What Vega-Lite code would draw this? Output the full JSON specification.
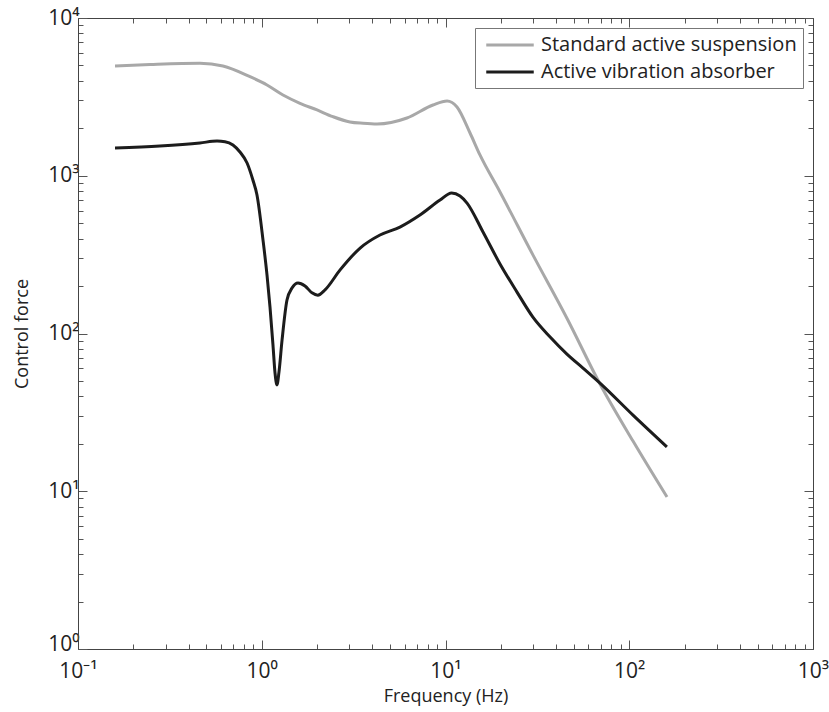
{
  "$schema": "https://vega.github.io/schema/vega-lite/v6.json",
  "width": 735,
  "height": 631,
  "autosize": {"type": "none"},
  "padding": {"left": 78, "top": 18, "right": 16, "bottom": 63},
  "background": "white",
  "config": {
    "view": {"stroke": null},
    "font": "Open Sans",
    "axis": {"grid": false, "domainColor": "#444", "domainWidth": 1, "tickColor": "#555", "tickWidth": 1, "labelColor": "#222", "titleColor": "#222", "labelFont": "Open Sans", "titleFont": "Open Sans", "titleFontWeight": "normal", "labelFontSize": 21, "titleFontSize": 18}
  },
  "data": {"values": [
    {"series": "Standard active suspension", "f": 0.159, "F": 4965},
    {"series": "Standard active suspension", "f": 0.247, "F": 5070},
    {"series": "Standard active suspension", "f": 0.461, "F": 5164},
    {"series": "Standard active suspension", "f": 0.615, "F": 4965},
    {"series": "Standard active suspension", "f": 0.863, "F": 4246},
    {"series": "Standard active suspension", "f": 1.068, "F": 3760},
    {"series": "Standard active suspension", "f": 1.305, "F": 3250},
    {"series": "Standard active suspension", "f": 1.615, "F": 2879},
    {"series": "Standard active suspension", "f": 2.0, "F": 2612},
    {"series": "Standard active suspension", "f": 2.44, "F": 2368},
    {"series": "Standard active suspension", "f": 3.02, "F": 2192},
    {"series": "Standard active suspension", "f": 3.56, "F": 2150},
    {"series": "Standard active suspension", "f": 4.24, "F": 2128},
    {"series": "Standard active suspension", "f": 6.17, "F": 2323},
    {"series": "Standard active suspension", "f": 8.55, "F": 2810},
    {"series": "Standard active suspension", "f": 10.2, "F": 2978},
    {"series": "Standard active suspension", "f": 11.55, "F": 2728},
    {"series": "Standard active suspension", "f": 13.6, "F": 1866},
    {"series": "Standard active suspension", "f": 15.4, "F": 1355},
    {"series": "Standard active suspension", "f": 19.8, "F": 789},
    {"series": "Standard active suspension", "f": 29.9, "F": 315},
    {"series": "Standard active suspension", "f": 45.8, "F": 125},
    {"series": "Standard active suspension", "f": 69.3, "F": 47.9},
    {"series": "Standard active suspension", "f": 104.8, "F": 20.8},
    {"series": "Standard active suspension", "f": 160.4, "F": 9.2},
    {"series": "Active vibration absorber", "f": 0.159, "F": 1500},
    {"series": "Active vibration absorber", "f": 0.279, "F": 1544},
    {"series": "Active vibration absorber", "f": 0.461, "F": 1614},
    {"series": "Active vibration absorber", "f": 0.571, "F": 1660},
    {"series": "Active vibration absorber", "f": 0.631, "F": 1645},
    {"series": "Active vibration absorber", "f": 0.697, "F": 1567},
    {"series": "Active vibration absorber", "f": 0.761, "F": 1415},
    {"series": "Active vibration absorber", "f": 0.832, "F": 1205},
    {"series": "Active vibration absorber", "f": 0.895, "F": 940},
    {"series": "Active vibration absorber", "f": 0.942, "F": 755},
    {"series": "Active vibration absorber", "f": 1.016, "F": 391},
    {"series": "Active vibration absorber", "f": 1.068, "F": 235},
    {"series": "Active vibration absorber", "f": 1.109, "F": 147},
    {"series": "Active vibration absorber", "f": 1.151, "F": 84.6},
    {"series": "Active vibration absorber", "f": 1.181, "F": 56.2},
    {"series": "Active vibration absorber", "f": 1.21, "F": 47.2},
    {"series": "Active vibration absorber", "f": 1.241, "F": 57},
    {"series": "Active vibration absorber", "f": 1.29, "F": 91},
    {"series": "Active vibration absorber", "f": 1.372, "F": 163},
    {"series": "Active vibration absorber", "f": 1.461, "F": 194},
    {"series": "Active vibration absorber", "f": 1.575, "F": 209},
    {"series": "Active vibration absorber", "f": 1.72, "F": 200},
    {"series": "Active vibration absorber", "f": 1.877, "F": 181},
    {"series": "Active vibration absorber", "f": 2.02, "F": 175},
    {"series": "Active vibration absorber", "f": 2.21, "F": 189},
    {"series": "Active vibration absorber", "f": 2.67, "F": 253},
    {"series": "Active vibration absorber", "f": 3.43, "F": 348},
    {"series": "Active vibration absorber", "f": 4.4, "F": 421},
    {"series": "Active vibration absorber", "f": 5.65, "F": 473},
    {"series": "Active vibration absorber", "f": 7.26, "F": 564},
    {"series": "Active vibration absorber", "f": 9.34, "F": 702},
    {"series": "Active vibration absorber", "f": 10.8, "F": 778},
    {"series": "Active vibration absorber", "f": 12.0, "F": 744},
    {"series": "Active vibration absorber", "f": 13.1, "F": 671},
    {"series": "Active vibration absorber", "f": 16.0, "F": 440},
    {"series": "Active vibration absorber", "f": 19.8, "F": 276},
    {"series": "Active vibration absorber", "f": 24.5, "F": 183},
    {"series": "Active vibration absorber", "f": 29.9, "F": 127},
    {"series": "Active vibration absorber", "f": 37.1, "F": 95},
    {"series": "Active vibration absorber", "f": 45.8, "F": 74.1},
    {"series": "Active vibration absorber", "f": 56.0, "F": 60.4},
    {"series": "Active vibration absorber", "f": 69.3, "F": 48.5},
    {"series": "Active vibration absorber", "f": 104.8, "F": 30.4},
    {"series": "Active vibration absorber", "f": 160.4, "F": 19.1}
  ]},
  "resolve": {"axis": {"x": "independent", "y": "independent"}},
  "layer": [
    {
      "mark": {"type": "line", "strokeWidth": 3, "interpolate": "monotone"},
      "encoding": {
        "x": {"field": "f", "type": "quantitative",
          "scale": {"type": "log", "domain": [0.1, 1000], "nice": false},
          "axis": {"orient": "bottom", "title": "Frequency (Hz)", "labelOverlap": false, "labelFlush": false,
            "tickSize": {"condition": {"test": "indexof([0.1,1,10,100,1000,10000], datum.value) >= 0", "value": -9}, "value": -5},
            "labelPadding": 20, "titleY": 38, "titleBaseline": "top",
            "labelExpr": "datum.value == 0.1 ? '10⁻¹' : datum.value == 1 ? '10⁰' : datum.value == 10 ? '10¹' : datum.value == 100 ? '10²' : datum.value == 1000 ? '10³' : ''"}},
        "y": {"field": "F", "type": "quantitative",
          "scale": {"type": "log", "domain": [1, 10000], "nice": false},
          "axis": {"orient": "left", "title": "Control force", "labelOverlap": false, "labelFlush": false,
            "tickSize": {"condition": {"test": "indexof([0.1,1,10,100,1000,10000], datum.value) >= 0", "value": -9}, "value": -5},
            "labelOffset": {"condition": {"test": "datum.value == 1", "value": -5}, "value": 0},
            "labelPadding": 8, "titlePadding": 16,
            "labelExpr": "datum.value == 1 ? '10⁰' : datum.value == 10 ? '10¹' : datum.value == 100 ? '10²' : datum.value == 1000 ? '10³' : datum.value == 10000 ? '10⁴' : ''"}},
        "color": {"field": "series", "type": "nominal",
          "scale": {"domain": ["Standard active suspension", "Active vibration absorber"], "range": ["#a8a8a8", "#1c1c1c"]},
          "legend": {"title": null, "orient": "top-right", "offset": 10, "strokeColor": "#777", "fillColor": "white",
            "padding": 6, "labelFontSize": 20, "labelFont": "Open Sans", "labelColor": "#222", "labelLimit": 500,
            "symbolType": "M-2.5,0H2.5", "symbolSize": 361, "symbolStrokeWidth": 3, "symbolOffset": 18, "rowPadding": 6, "labelOffset": 20}}
      }
    },
    {
      "mark": {"type": "line", "strokeOpacity": 0},
      "encoding": {
        "x": {"field": "f", "type": "quantitative",
          "scale": {"type": "log", "domain": [0.1, 1000], "nice": false},
          "axis": {"orient": "top", "title": null, "labels": false,
            "tickSize": {"condition": {"test": "indexof([0.1,1,10,100,1000,10000], datum.value) >= 0", "value": -9}, "value": -5}}},
        "y": {"field": "F", "type": "quantitative",
          "scale": {"type": "log", "domain": [1, 10000], "nice": false},
          "axis": {"orient": "right", "title": null, "labels": false,
            "tickSize": {"condition": {"test": "indexof([0.1,1,10,100,1000,10000], datum.value) >= 0", "value": -9}, "value": -5}}},
        "detail": {"field": "series"}
      }
    }
  ]
}
